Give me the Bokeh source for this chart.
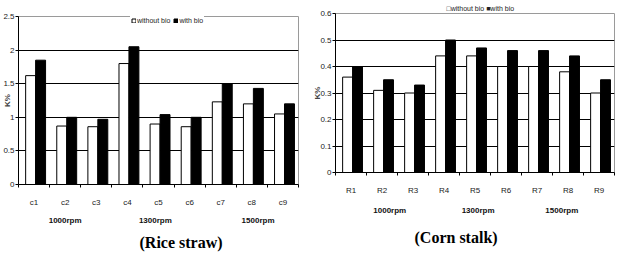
from bokeh.plotting import figure
from bokeh.layouts import row, column
from bokeh.models import (ColumnDataSource, Range1d, FixedTicker, NumeralTickFormatter,
                          Legend, LegendItem, LinearAxis, Title)
from bokeh.transform import dodge
from bokeh.embed import file_html
from bokeh.resources import INLINE

# Potassium content (K%) of the composts
rice_cats = ["c1", "c2", "c3", "c4", "c5", "c6", "c7", "c8", "c9"]
rice_without = [1.62, 0.87, 0.86, 1.80, 0.90, 0.86, 1.23, 1.20, 1.05]
rice_with = [1.85, 1.00, 0.97, 2.05, 1.04, 1.00, 1.50, 1.43, 1.20]
rice_yticks = [0, 0.5, 1, 1.5, 2, 2.5]

corn_cats = ["R1", "R2", "R3", "R4", "R5", "R6", "R7", "R8", "R9"]
corn_without = [0.36, 0.31, 0.30, 0.44, 0.44, 0.40, 0.40, 0.38, 0.30]
corn_with = [0.40, 0.35, 0.33, 0.50, 0.47, 0.46, 0.46, 0.44, 0.35]
corn_yticks = [0, 0.1, 0.2, 0.3, 0.4, 0.5, 0.6]

speeds = ["1000rpm", "1300rpm", "1500rpm"]
series_names = ["without bio", "with bio"]

SANS = "Liberation Sans"


def panel(cats, without, with_, yticks, width, fl, fr, ft, fb, speed_pos,
          legend_loc, ylab_standoff, cat_standoff, grp_standoff,
          caption, caption_offset, caption_standoff):
    n = len(cats)
    xs = list(range(1, n + 1))
    src = ColumnDataSource(dict(x=xs, a=without, b=with_))
    p = figure(width=width, height=254, output_backend="svg", toolbar_location=None,
               x_range=Range1d(0.5, n + 0.5), y_range=Range1d(yticks[0], yticks[-1]),
               min_border_left=fl, min_border_right=fr, min_border_top=ft,
               min_border_bottom=fb)
    p.background_fill_color = "white"
    p.border_fill_color = "white"
    p.outline_line_color = "#9a9a9a"
    p.outline_line_width = 1

    r1 = p.vbar(x=dodge("x", -0.11), top="a", width=0.32, source=src,
                fill_color="white", line_color="black", line_width=1)
    r2 = p.vbar(x=dodge("x", 0.21), top="b", width=0.32, source=src,
                fill_color="black", line_color="black", line_width=1)

    # y axis
    ya = p.yaxis[0]
    ya.ticker = FixedTicker(ticks=yticks)
    ya.formatter = NumeralTickFormatter(format="0.[0]")
    ya.major_tick_out = 3
    ya.major_tick_in = 0
    ya.minor_tick_line_color = None
    ya.major_label_standoff = 1
    ya.major_label_text_font = SANS
    ya.major_label_text_font_size = "8px"
    ya.major_label_text_color = "#222222"
    ya.axis_line_color = "black"
    ya.axis_label = "K%"
    ya.axis_label_standoff = ylab_standoff
    ya.axis_label_text_font = SANS
    ya.axis_label_text_font_size = "8px"
    ya.axis_label_text_font_style = "bold"

    p.ygrid.ticker = FixedTicker(ticks=yticks[1:-1])
    p.ygrid.grid_line_color = "black"
    p.ygrid.grid_line_width = 1
    p.xgrid.grid_line_color = None

    # x axis: labels at category centres, tick marks on category boundaries
    xa = p.xaxis[0]
    xa.ticker = FixedTicker(ticks=xs, minor_ticks=[x - 0.5 for x in xs] + [n + 0.5])
    xa.major_label_overrides = {x: c for x, c in zip(xs, cats)}
    xa.major_tick_out = 0
    xa.major_tick_in = 0
    xa.minor_tick_out = 3
    xa.minor_tick_in = 0
    xa.minor_tick_line_color = "black"
    xa.major_label_standoff = cat_standoff
    xa.major_label_text_font = SANS
    xa.major_label_text_font_size = "8px"
    xa.major_label_text_color = "#222222"
    xa.axis_line_color = "black"

    # rotor speed group labels
    ga = LinearAxis(ticker=FixedTicker(ticks=speed_pos),
                    major_label_overrides={x: s for x, s in zip(speed_pos, speeds)},
                    axis_line_color=None, major_tick_line_color=None,
                    major_tick_out=0, major_tick_in=0, minor_tick_out=0, minor_tick_in=0,
                    minor_tick_line_color=None, major_label_standoff=grp_standoff,
                    major_label_text_font=SANS, major_label_text_font_size="8px",
                    major_label_text_font_style="bold", major_label_text_color="#111111")
    p.add_layout(ga, "below")

    p.add_layout(Title(text=caption, align="left", offset=caption_offset,
                       standoff=caption_standoff, text_font="Liberation Serif",
                       text_font_size="16px", text_font_style="bold",
                       text_color="black"), "below")

    if legend_loc is not None:
        leg = Legend(items=[LegendItem(label=series_names[0], renderers=[r1]),
                            LegendItem(label=series_names[1], renderers=[r2])],
                     orientation="horizontal", location=legend_loc,
                     background_fill_color="white", background_fill_alpha=1,
                     border_line_alpha=0, label_text_font=SANS,
                     label_text_font_size="7px", label_text_color="#222222",
                     glyph_width=5, glyph_height=5, label_height=6, label_standoff=1,
                     spacing=3, padding=1, margin=0)
        p.add_layout(leg)
    return p


p1 = panel(rice_cats, rice_without, rice_with, rice_yticks, 310, 15, 12, 16, 68,
           [2.0, 4.9, 8.2], (112, 159), -12, 10, 6,
           "(Rice straw)", 121, 8)
p2 = panel(corn_cats, corn_without, corn_with, corn_yticks, 311, 22, 7, 13, 79,
           [2.25, 5.1, 7.8], None, -5, 10, 8,
           "(Corn stalk)", 79, 18)

# key for the corn stalk panel sits above its frame
p2.add_layout(Title(text="\u25a1" + series_names[0] + " \u25a0" + series_names[1],
                    align="left", offset=111, standoff=3, text_font=SANS,
                    text_font_size="7px", text_font_style="normal",
                    text_color="#222222"), "above")

layout = row(column(p1), column(p2))
open("out.html", "w").write(file_html(layout, INLINE))
